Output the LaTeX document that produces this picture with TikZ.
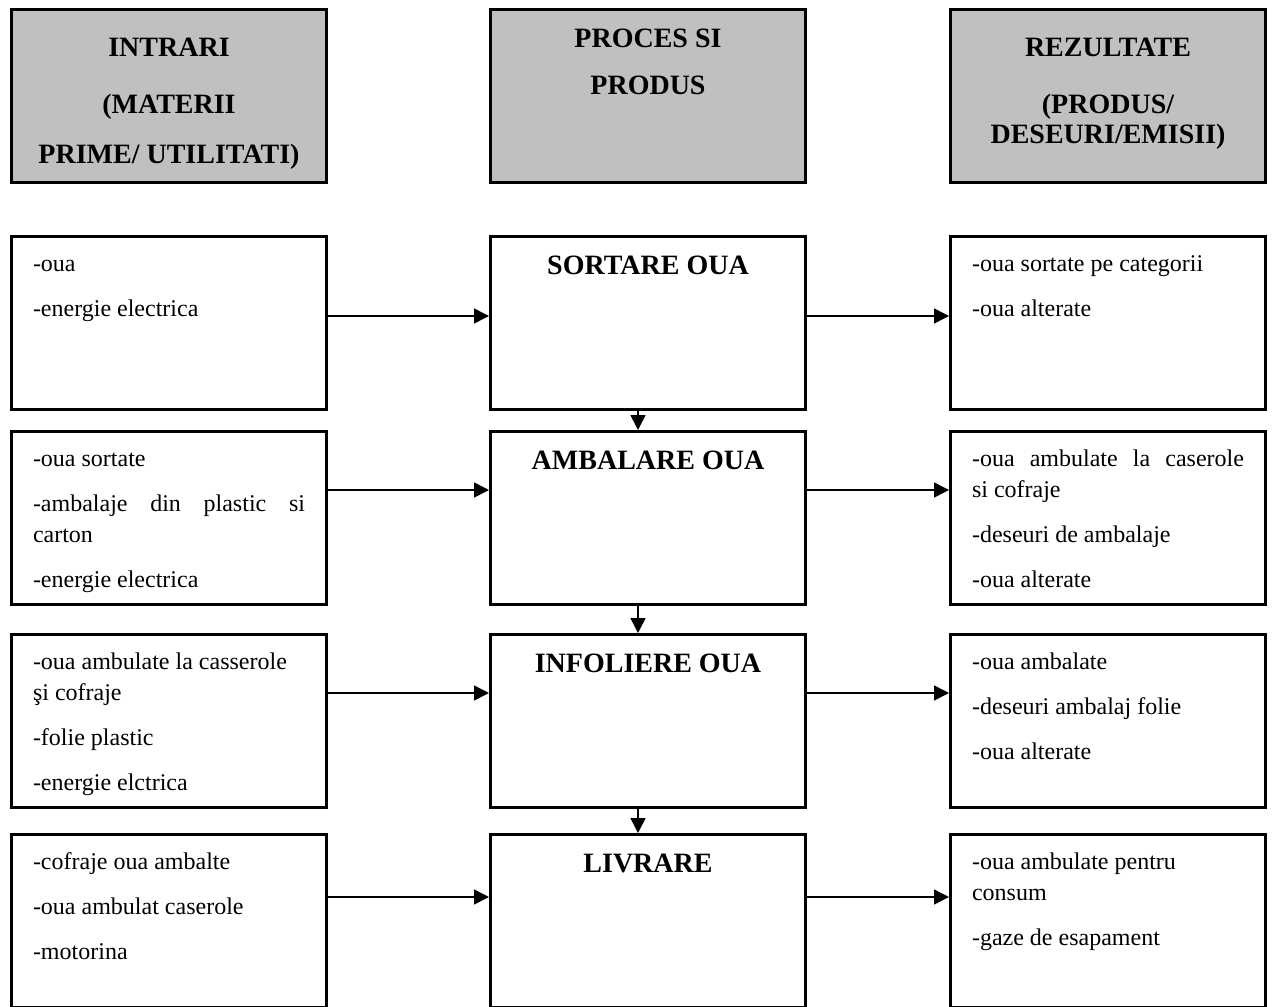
\documentclass[tikz,border=0pt]{standalone}
\usepackage{fontspec}
\setmainfont{Liberation Serif}
\usetikzlibrary{arrows.meta}
\usetikzlibrary{positioning}

\definecolor{headgray}{HTML}{C0C0C0}

% text inside a box: fixed height, text from the top
\newcommand{\boxbody}[1]{\parbox[c][86.5pt][t]{136pt}{\fontsize{12}{15.5}\selectfont\setlength{\parskip}{7pt}\rule{0pt}{17.5pt}#1}}
\newcommand{\boxtitle}[2]{\parbox[c][86.5pt][t]{136pt}{\centering\bfseries\fontsize{14}{15}\selectfont\rule{0pt}{#1}#2}}

\tikzset{
  flowbox/.style={draw, line width=1.5pt, minimum width=157.5pt, minimum height=86.5pt,
    inner xsep=10.75pt, inner ysep=0pt, anchor=north west},
  headbox/.style={flowbox, fill=headgray},
  flowarrow/.style={line width=0.75pt, -{Triangle[length=7.5pt,width=7.5pt]}}
}

\begin{document}
\begin{tikzpicture}[x=0.5pt,y=-0.5pt]
\clip (0,0) rectangle (1272,1006);
% Headers
\node[headbox] at (10,8)  (headIn)   {\boxtitle{23.5pt}{INTRARI\\[13.5pt](MATERII\\[10pt]PRIME/ UTILITATI)}};
\node[headbox] at (489,8) (headProc) {\boxtitle{19pt}{PROCES SI\\[8.5pt]PRODUS}};
\node[headbox] at (949,8) (headOut)  {\boxtitle{23.5pt}{REZULTATE\\[13.5pt](PRODUS/\\DESEURI/EMISII)}};
% Inputs
\node[flowbox] at (10,235) (in1) {\boxbody{-oua\par -energie electrica}};
\node[flowbox] at (10,430) (in2) {\boxbody{-oua sortate\par -ambalaje din plastic si\linebreak carton\par -energie electrica}};
\node[flowbox] at (10,633) (in3) {\boxbody{-oua ambulate la casserole\newline şi cofraje\par -folie plastic\par -energie elctrica}};
\node[flowbox] at (10,833) (in4) {\boxbody{-cofraje oua ambalte\par -oua ambulat caserole\par -motorina}};
% Process steps
\node[flowbox] at (489,235) (proc1) {\boxtitle{19pt}{SORTARE OUA}};
\node[flowbox] at (489,430) (proc2) {\boxtitle{19pt}{AMBALARE OUA}};
\node[flowbox] at (489,633) (proc3) {\boxtitle{19pt}{INFOLIERE OUA}};
\node[flowbox] at (489,833) (proc4) {\boxtitle{19pt}{LIVRARE}};
% Results
\node[flowbox] at (949,235) (out1) {\boxbody{-oua sortate pe categorii\par -oua alterate}};
\node[flowbox] at (949,430) (out2) {\boxbody{-oua ambulate la caserole\linebreak si cofraje\par -deseuri de ambalaje\par -oua alterate}};
\node[flowbox] at (949,633) (out3) {\boxbody{-oua ambalate\par -deseuri ambalaj folie\par -oua alterate}};
\node[flowbox] at (949,833) (out4) {\boxbody{-oua ambulate pentru\newline consum\par -gaze de esapament}};
% Arrows
\draw[flowarrow] ([yshift=3.5pt]in1.east) -- ([yshift=3.5pt]proc1.west);
\draw[flowarrow] ([yshift=3.5pt]proc1.east) -- ([yshift=3.5pt]out1.west);
\draw[flowarrow] ([yshift=14pt]in2.east) -- ([yshift=14pt]proc2.west);
\draw[flowarrow] ([yshift=14pt]proc2.east) -- ([yshift=14pt]out2.west);
\draw[flowarrow] ([yshift=14pt]in3.east) -- ([yshift=14pt]proc3.west);
\draw[flowarrow] ([yshift=14pt]proc3.east) -- ([yshift=14pt]out3.west);
\draw[flowarrow] ([yshift=12pt]in4.east) -- ([yshift=12pt]proc4.west);
\draw[flowarrow] ([yshift=12pt]proc4.east) -- ([yshift=12pt]out4.west);
\draw[flowarrow] ([xshift=-5pt]proc1.south) -- ([xshift=-5pt]proc2.north);
\draw[flowarrow] ([xshift=-5pt]proc2.south) -- ([xshift=-5pt]proc3.north);
\draw[flowarrow] ([xshift=-5pt]proc3.south) -- ([xshift=-5pt]proc4.north);
\end{tikzpicture}
\end{document}
